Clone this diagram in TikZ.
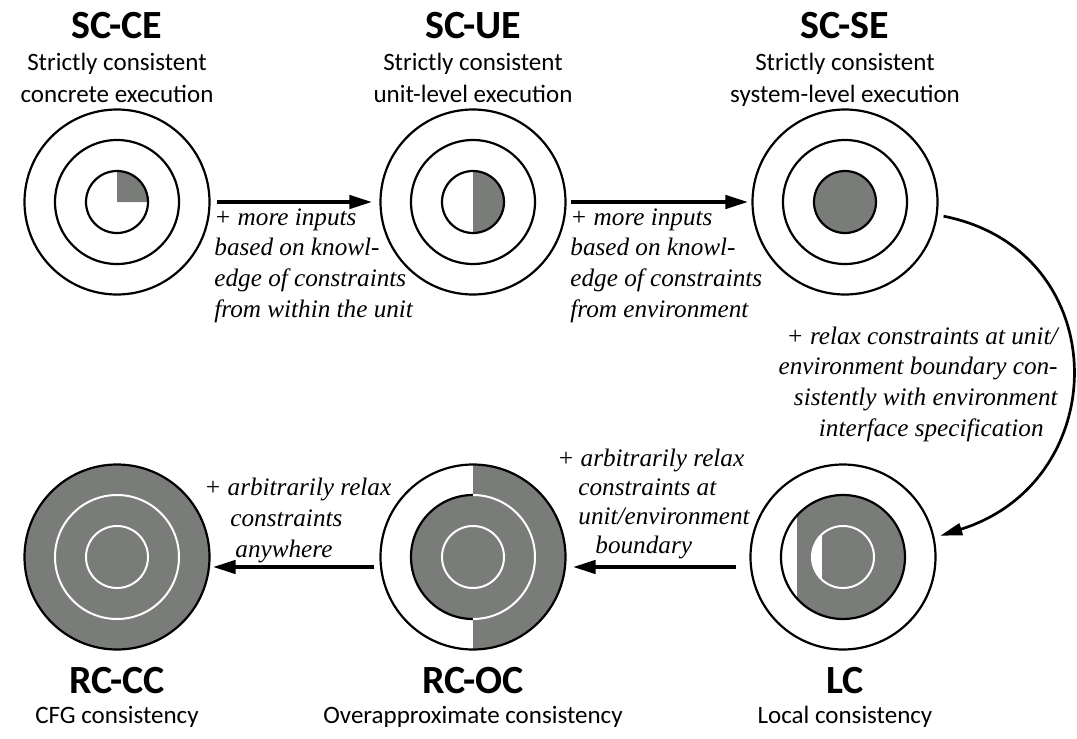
\documentclass[tikz,border=0pt]{standalone}
\usepackage{fontspec}
\setmainfont{Liberation Serif}
\newfontfamily\labelfont{Carlito}
\usetikzlibrary{arrows.meta}
\definecolor{fillgray}{RGB}{122,124,121}
\tikzset{
  ring/.style={circle, draw, line width=1.1pt, minimum size=92.5pt, inner sep=0},
  title/.style={font=\labelfont\fontsize{20}{24}\selectfont\bfseries, inner sep=0, anchor=base},
  subtitle/.style={font=\labelfont\fontsize{12.5}{16}\selectfont, align=center, inner sep=0, anchor=base},
  note/.style={font=\fontsize{12.6}{15.3}\selectfont\itshape, inner sep=0, anchor=base west, align=left},
  steparrow/.style={line width=2.2pt, -{Triangle[length=11.5pt,width=6.5pt]}},
}
\begin{document}
\begin{tikzpicture}[x=0.5pt,y=0.5pt]
\useasboundingbox (0,0) rectangle (1077,-739);

% gray parts, top row
\fill[fillgray] (117,-202) -- (148,-202) arc[start angle=0,end angle=90,radius=31] -- cycle;
\fill[fillgray] (473,-171) arc[start angle=90,end angle=-90,radius=31] -- cycle;
\fill[fillgray] (845,-202) circle (31);

% gray parts, bottom row
\begin{scope}
  \clip (843,-557) circle (62);
  \fill[fillgray] (797,-480) rectangle (910,-640);
\end{scope}
\begin{scope}
  \clip (843,-557) circle (31);
  \fill[white] (800,-520) rectangle (822,-600);
\end{scope}
\draw[white, line width=1pt] (843,-557) circle (31);

\fill[fillgray] (473,-464.5) arc[start angle=90,end angle=-90,radius=92.5] -- cycle;
\fill[fillgray] (473,-557) circle (62);
\draw[line width=1.1pt] (473,-495) arc[start angle=90,end angle=270,radius=62];
\draw[white, line width=1pt] (473,-495) arc[start angle=90,end angle=-90,radius=62];
\draw[white, line width=1pt] (473,-557) circle (31);

\fill[fillgray] (117,-557) circle (92.5);
\draw[white, line width=1pt] (117,-557) circle (62) (117,-557) circle (31);

% rings
\node[ring] (scce) at (117,-202) {};
\draw[line width=1.1pt] (117,-202) circle (62) (117,-202) circle (31);
\node[ring] (scue) at (473,-202) {};
\draw[line width=1.1pt] (473,-202) circle (62) (473,-202) circle (31);
\node[ring] (scse) at (845,-202) {};
\draw[line width=1.1pt] (845,-202) circle (62) (845,-202) circle (31);
\node[ring] (lc) at (843,-557) {};
\draw[line width=1.1pt] (843,-557) circle (62);
\node[ring] (rcoc) at (473,-557) {};
\node[ring] (rccc) at (117,-557) {};

% titles
\node[title] (scceT) at (117,-39) {SC-CE};
\node[subtitle] (scceS) at (117,-102) {Strictly consistent\\concrete execution};
\node[title] (scueT) at (473,-39) {SC-UE};
\node[subtitle] (scueS) at (473,-102) {Strictly consistent\\unit-level execution};
\node[title] (scseT) at (845,-39) {SC-SE};
\node[subtitle] (scseS) at (845,-102) {Strictly consistent\\system-level execution};
\node[title] (rcccT) at (117,-693) {RC-CC};
\node[subtitle] (rcccS) at (117,-723) {CFG consistency};
\node[title] (rcocT) at (473,-693) {RC-OC};
\node[subtitle] (rcocS) at (473,-723) {Overapproximate consistency};
\node[title] (lcT) at (845,-693) {LC};
\node[subtitle] (lcS) at (845,-723) {Local consistency};

% arrows
\draw[steparrow, shorten <=3pt, shorten >=3.5pt] (scce) -- (scue);
\draw[steparrow, shorten <=2pt, shorten >=1.5pt] (scue) -- (scse);
\draw[line width=1.35pt, -{Triangle[length=11pt,width=6pt]}, shorten <=3pt, shorten >=3pt]
  (scse.-8) .. controls +(177,-35) and +(181,57) .. (lc.12);
\draw[steparrow, shorten <=6.5pt, shorten >=3pt] ([yshift=-5pt]lc.west) -- ([yshift=-5pt]rcoc.east);
\draw[steparrow, shorten <=2.5pt, shorten >=1pt] ([yshift=-5pt]rcoc.west) -- ([yshift=-5pt]rccc.east);

% notes
\node[note] (noteA) at (214,-317) {+ more inputs\\based on knowl-\\edge of constraints\\from within the unit};
\node[note] (noteB) at (570,-317) {+ more inputs\\based on knowl-\\edge of constraints\\from environment};
\node[note, anchor=base east, align=right] (noteC) at (1058,-436) {+ relax constraints at unit/\\environment boundary con-\\sistently with environment\hspace*{6pt}\\interface specification\hspace*{7pt}};
\node[note, font=\fontsize{12.6}{14.4}\selectfont\itshape] (noteD) at (557,-553) {+ arbitrarily relax\\\hspace*{10.5pt}constraints at\\\hspace*{10.5pt}unit/environment\\\hspace*{19pt}boundary};
\node[note] (noteE) at (204,-557) {+ arbitrarily relax\\\hspace*{13pt}constraints\\\hspace*{15.5pt}anywhere};

\end{tikzpicture}
\end{document}
